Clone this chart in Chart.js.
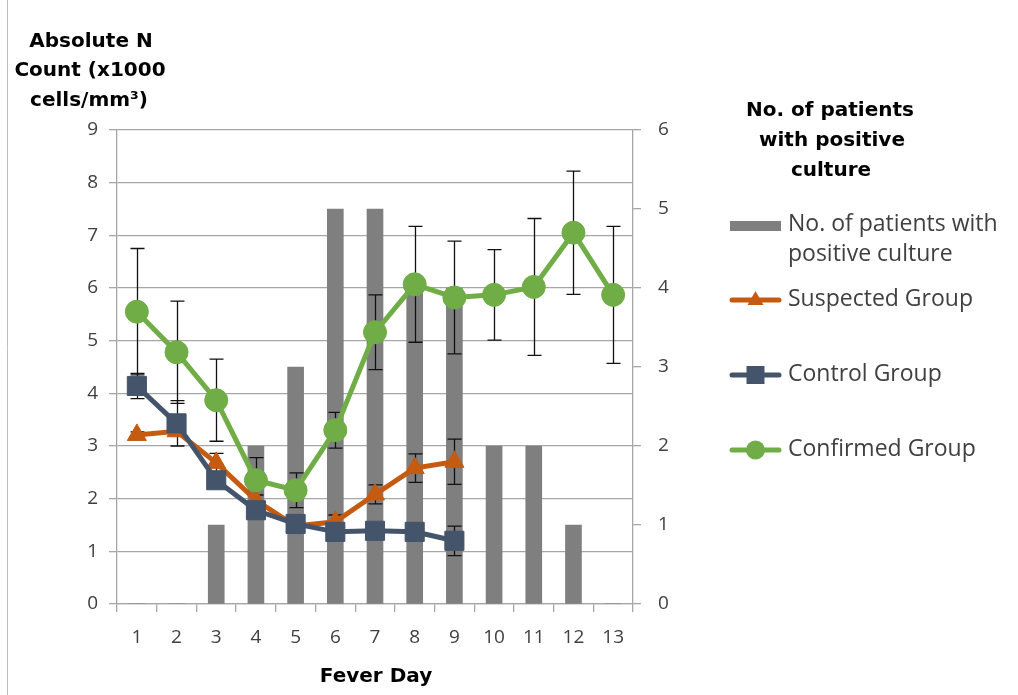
<!DOCTYPE html>
<html>
<head>
<meta charset="utf-8">
<script src="https://cdn.jsdelivr.net/npm/chart.js@4.4.1/dist/chart.umd.min.js"></script>
<style>
  html, body { margin: 0; padding: 0; background: #ffffff; }
  #wrap { width: 1018px; height: 695px; position: relative; }
</style>
</head>
<body>
<div id="wrap"><canvas id="c" width="1018" height="695"></canvas></div>
<script>
// Fever day categories
const feverDays = ['1', '2', '3', '4', '5', '6', '7', '8', '9', '10', '11', '12', '13'];

// Number of patients with a positive culture (right axis)
const positiveCulture = [0, 0, 1, 2, 3, 5, 5, 4, 4, 2, 2, 1, 0];

// Absolute neutrophil count (x1000 cells/mm3), mean and error per day
const suspectedGroup = [3.21, 3.28, 2.68, 1.97, 1.48, 1.56, 2.08, 2.58, 2.70, null, null, null, null];
const suspectedErr   = [0.06, 0.05, 0.18, 0.10, 0.08, 0.13, 0.18, 0.27, 0.43, null, null, null, null];

const controlGroup = [4.14, 3.43, 2.35, 1.78, 1.52, 1.37, 1.39, 1.37, 1.20, null, null, null, null];
const controlErr   = [0.24, 0.43, 0.15, 0.12, 0.12, 0.12, 0.10, 0.10, 0.28, null, null, null, null];

const confirmedGroup = [5.55, 4.78, 3.87, 2.35, 2.16, 3.30, 5.16, 6.07, 5.82, 5.87, 6.02, 7.05, 5.87];
const confirmedErr   = [1.20, 0.97, 0.78, 0.43, 0.33, 0.34, 0.71, 1.10, 1.07, 0.86, 1.30, 1.17, 1.30];

// Axis ranges
const leftAxisMax = 9;
const rightAxisMax = 6;

const FONT = '"Open Sans", "Noto Sans", sans-serif';
const TITLE_FONT = '"DejaVu Sans", "Open Sans", sans-serif';
const GRID = '#a6a6a6';
const TEXT = '#404040';

// Error bars, drawn just after the bars so the line markers sit on top
const errorBars = {
  id: 'errorBars',
  afterDatasetDraw(chart, args) {
    if (args.index !== 0) return;
    const ctx = chart.ctx;
    const yScale = chart.scales.y;
    const sets = [
      { idx: 1, err: suspectedErr },
      { idx: 2, err: controlErr },
      { idx: 3, err: confirmedErr }
    ];
    ctx.save();
    ctx.strokeStyle = '#111111';
    ctx.lineWidth = 1.3;
    sets.forEach(s => {
      const meta = chart.getDatasetMeta(s.idx);
      const vals = chart.data.datasets[s.idx].data;
      meta.data.forEach((pt, i) => {
        const v = vals[i], e = s.err[i];
        if (v == null || e == null) return;
        const x = Math.round(pt.x) + 0.5;
        const yt = yScale.getPixelForValue(v + e);
        const yb = yScale.getPixelForValue(v - e);
        ctx.beginPath();
        ctx.moveTo(x, yt); ctx.lineTo(x, yb);
        ctx.moveTo(x - 7, yt); ctx.lineTo(x + 7, yt);
        ctx.moveTo(x - 7, yb); ctx.lineTo(x + 7, yb);
        ctx.stroke();
      });
    });
    ctx.restore();
  }
};

// Titles, legend and outer frame line
const decorations = {
  id: 'decorations',
  beforeDraw(chart) {
    const ctx = chart.ctx;
    ctx.save();
    ctx.fillStyle = '#ffffff';
    ctx.fillRect(0, 0, chart.width, chart.height);
    ctx.strokeStyle = '#bfbfbf';
    ctx.lineWidth = 1;
    ctx.beginPath();
    ctx.moveTo(7.5, 0); ctx.lineTo(7.5, chart.height);
    ctx.stroke();
    ctx.restore();
  },
  afterDraw(chart) {
    const ctx = chart.ctx;
    ctx.save();
    ctx.fillStyle = '#000000';
    ctx.textAlign = 'center';
    ctx.textBaseline = 'middle';
    ctx.font = 'bold 20px ' + TITLE_FONT;
    // left axis title
    ctx.fillText('Absolute N', 91, 42);
    ctx.fillText('Count (x1000', 90, 71);
    ctx.fillText('cells/mm\u00B3)', 89, 101);
    // x axis title
    ctx.fillText('Fever Day', 376, 677);
    // legend title
    ctx.fillText('No. of patients', 830, 111);
    ctx.fillText('with positive', 832, 141);
    ctx.fillText('culture', 831, 171);

    // legend entries
    const ds = chart.data.datasets;
    ctx.textAlign = 'left';
    ctx.font = '23px ' + FONT;
    ctx.fillStyle = TEXT;
    ctx.fillText('No. of patients with', 788, 224);
    ctx.fillText('positive culture', 788, 254);
    ctx.fillStyle = ds[0].backgroundColor;
    ctx.fillRect(730, 221, 51, 10);

    const rows = [
      { d: ds[1], y: 300 },
      { d: ds[2], y: 375 },
      { d: ds[3], y: 450 }
    ];
    rows.forEach(r => {
      const c = r.d.borderColor;
      ctx.strokeStyle = c;
      ctx.lineWidth = 5;
      ctx.lineCap = 'round';
      ctx.beginPath();
      ctx.moveTo(732, r.y); ctx.lineTo(779, r.y);
      ctx.stroke();
      ctx.fillStyle = c;
      const cx = 755.5;
      ctx.beginPath();
      if (r.d.pointStyle === 'triangle') {
        ctx.moveTo(cx, r.y - 9); ctx.lineTo(cx + 8, r.y + 5); ctx.lineTo(cx - 8, r.y + 5);
        ctx.closePath();
      } else if (r.d.pointStyle === 'rect') {
        ctx.rect(cx - 9, r.y - 9, 18, 18);
      } else {
        ctx.arc(cx, r.y, 9.5, 0, Math.PI * 2);
      }
      ctx.fill();
      ctx.fillStyle = TEXT;
      ctx.fillText(r.d.label, 788, r.y - 1);
    });
    ctx.restore();
  }
};

new Chart(document.getElementById('c'), {
  type: 'bar',
  data: {
    labels: feverDays,
    datasets: [
      {
        type: 'bar',
        label: 'No. of patients with positive culture',
        data: positiveCulture,
        yAxisID: 'y2',
        backgroundColor: '#7f7f7f',
        barThickness: 16,
        order: 4
      },
      {
        type: 'line',
        label: 'Suspected Group',
        data: suspectedGroup,
        yAxisID: 'y',
        borderColor: '#c55a11',
        backgroundColor: '#c55a11',
        borderWidth: 5,
        pointStyle: 'triangle',
        pointRadius: 11,
        pointBorderWidth: 1,
        pointBackgroundColor: '#c55a11',
        pointBorderColor: '#c55a11',
        order: 3
      },
      {
        type: 'line',
        label: 'Control Group',
        data: controlGroup,
        yAxisID: 'y',
        borderColor: '#44546a',
        backgroundColor: '#44546a',
        borderWidth: 5,
        pointStyle: 'rect',
        pointRadius: 13.5,
        pointBorderWidth: 1,
        pointBackgroundColor: '#44546a',
        pointBorderColor: '#44546a',
        order: 2
      },
      {
        type: 'line',
        label: 'Confirmed Group',
        data: confirmedGroup,
        yAxisID: 'y',
        borderColor: '#70ad47',
        backgroundColor: '#70ad47',
        borderWidth: 5,
        pointStyle: 'circle',
        pointRadius: 11.5,
        pointBorderWidth: 1,
        pointBackgroundColor: '#70ad47',
        pointBorderColor: '#70ad47',
        order: 1
      }
    ]
  },
  options: {
    responsive: false,
    animation: false,
    devicePixelRatio: 1,
    layout: { padding: { top: 130, left: 0, right: 0, bottom: 0 } },
    plugins: {
      legend: { display: false },
      tooltip: { enabled: false }
    },
    scales: {
      x: {
        type: 'category',
        offset: true,
        grid: { offset: true, drawOnChartArea: false, drawTicks: true, tickLength: 8, color: GRID, lineWidth: 1.3 },
        border: { display: true, color: GRID, width: 1.3 },
        ticks: { color: TEXT, font: { family: FONT, size: 19 }, padding: 14, maxRotation: 0, autoSkip: false },
        afterFit(s) { s.height = 91; }
      },
      y: {
        position: 'left',
        min: 0,
        max: leftAxisMax,
        ticks: { stepSize: 1, color: TEXT, font: { family: FONT, size: 19 }, padding: 11 },
        grid: { color: GRID, lineWidth: 1.3, tickLength: 8 },
        border: { display: true, color: GRID, width: 1.3 },
        afterFit(s) { s.width = 117; }
      },
      y2: {
        position: 'right',
        min: 0,
        max: rightAxisMax,
        ticks: { stepSize: 1, color: TEXT, font: { family: FONT, size: 19 }, padding: 17 },
        grid: { drawOnChartArea: false, color: GRID, lineWidth: 1.3, tickLength: 8 },
        border: { display: true, color: GRID, width: 1.3 },
        afterFit(s) { s.width = 1018 - 633; }
      }
    }
  },
  plugins: [errorBars, decorations]
});
</script>
</body>
</html>
